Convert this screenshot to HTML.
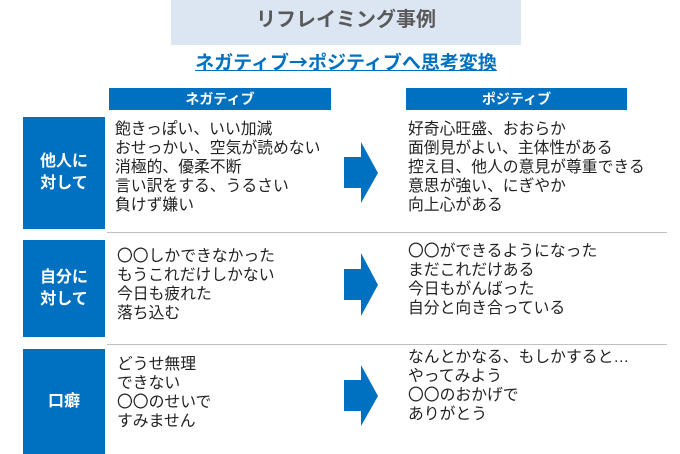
<!DOCTYPE html>
<html><head><meta charset="utf-8"><style>
body{margin:0;width:680px;height:454px;background:#fff;position:relative;overflow:hidden;font-family:"Liberation Sans","Noto Sans CJK JP",sans-serif}
.a{position:absolute}
.lab{position:absolute;left:23px;width:82px;background:#0070c0;color:#fff;font-weight:bold;font-size:16px;line-height:22px;display:flex;align-items:center;justify-content:center;text-align:center}
.hd{position:absolute;top:88px;height:22px;background:#0070c0;color:#fff;font-weight:bold;font-size:14px;line-height:22px;text-align:center}
.t{position:absolute;font-size:15.8px;line-height:19px;color:#222;white-space:nowrap}
.sep{position:absolute;left:107px;width:560px;height:1px;background:#c0c0c0}
</style></head><body>
<div class="a" style="left:171px;top:0;width:350px;height:45px;background:#dce6f2;color:#595959;font-weight:bold;font-size:20px;line-height:40px;text-align:center">リフレイミング事例</div>
<div class="a" style="left:146px;width:400px;top:48px;text-align:center;color:#0070c0;font-weight:bold;font-size:19px;text-decoration:underline;font-family:'Noto Sans CJK JP',sans-serif">ネガティブ→ポジティブへ思考変換</div>
<div class="hd" style="left:109px;width:222px">ネガティブ</div>
<div class="hd" style="left:406px;width:221px">ポジティブ</div>

<div class="lab" style="top:117px;height:112px">他人に<br>対して</div>
<div class="t" style="left:115px;top:120px">飽きっぽい、いい加減<br>おせっかい、空気が読めない<br>消極的、優柔不断<br>言い訳をする、うるさい<br>負けず嫌い</div>
<div class="t" style="left:408px;top:120px">好奇心旺盛、おおらか<br>面倒見がよい、主体性がある<br>控え目、他人の意見が尊重できる<br>意思が強い、にぎやか<br>向上心がある</div>
<svg class="a" style="left:344px;top:142px" width="35" height="62"><polygon points="0,15 17,15 17,0 34,31 17,61 17,46 0,46" fill="#0070c0"/></svg>
<div class="sep" style="top:232px"></div>

<div class="lab" style="top:240px;height:97px">自分に<br>対して</div>
<div class="t" style="left:117px;top:247px">〇〇しかできなかった<br>もうこれだけしかない<br>今日も疲れた<br>落ち込む</div>
<div class="t" style="left:408px;top:242px">〇〇ができるようになった<br>まだこれだけある<br>今日もがんばった<br>自分と向き合っている</div>
<svg class="a" style="left:344px;top:253px" width="35" height="64"><polygon points="0,16 17,16 17,0 34,32 17,63 17,47 0,47" fill="#0070c0"/></svg>
<div class="sep" style="top:344px"></div>

<div class="lab" style="top:349px;height:105px">口癖</div>
<div class="t" style="left:117px;top:355px">どうせ無理<br>できない<br>〇〇のせいで<br>すみません</div>
<div class="t" style="left:408px;top:348px">なんとかなる、もしかすると…<br>やってみよう<br>〇〇のおかげで<br>ありがとう</div>
<svg class="a" style="left:344px;top:365px" width="35" height="62"><polygon points="0,15 17,15 17,0 34,31 17,61 17,46 0,46" fill="#0070c0"/></svg>
</body></html>
